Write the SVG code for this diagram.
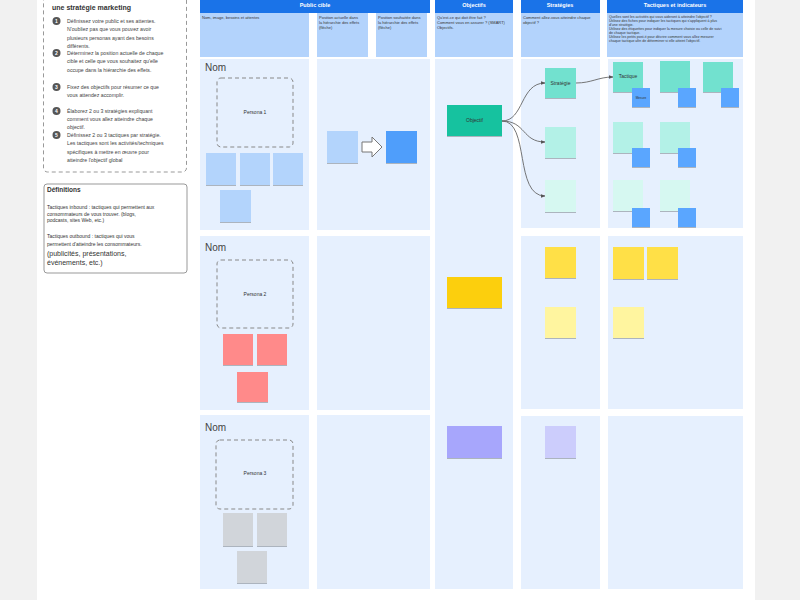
<svg xmlns="http://www.w3.org/2000/svg" width="800" height="600" viewBox="0 0 800 600">
<defs>
<style>
text{font-family:"Liberation Sans",Arial,sans-serif;fill:#333}
.hd{fill:#1a73e8}
.sub{fill:#b3d3fc}
.body{fill:#e6f0fe}
.ht{fill:#fff;font-size:5.5px;font-weight:bold}
.st{font-size:4px;fill:#333}
.lp{font-size:5.2px;fill:#444}
.num{fill:#555}
.numt{fill:#fff;font-size:5px;font-weight:bold}
.nom{font-size:10px;fill:#444}
.pbox{fill:none;stroke:#888;stroke-width:1;stroke-dasharray:4 3}
.lbl{font-size:5px;fill:#333}
.conn{fill:none;stroke:#666;stroke-width:0.9}
</style>
<filter id="sh" x="-10%" y="-10%" width="120%" height="130%">
<feDropShadow dx="0" dy="1" stdDeviation="0.6" flood-color="#000" flood-opacity="0.25"/>
</filter>
<marker id="ah" viewBox="0 0 10 10" refX="9" refY="5" markerWidth="5" markerHeight="5" orient="auto">
<path d="M0,1 L10,5 L0,9 z" fill="#555"/>
</marker>
</defs>
<rect width="800" height="600" fill="#f1f1f1"/>
<rect x="37" y="0" width="718" height="600" fill="#ffffff"/>

<!-- Left panel -->
<g id="instructions">
<rect x="43.5" y="-10" width="143" height="182" rx="4" fill="#fff" stroke="#999" stroke-width="1" stroke-dasharray="4 3"/>
<text x="52" y="10" style="font-size:7px;font-weight:bold;fill:#333">une stratégie marketing</text>
<circle class="num" cx="56.5" cy="21" r="4"/><text class="numt" x="56.5" y="22.8" text-anchor="middle">1</text>
<text class="lp" x="67" y="23">Définissez votre public et ses attentes.</text>
<text class="lp" x="67" y="31.3">N'oubliez pas que vous pouvez avoir</text>
<text class="lp" x="67" y="39.6">plusieurs personas ayant des besoins</text>
<text class="lp" x="67" y="47.9">différents.</text>
<circle class="num" cx="56.5" cy="53" r="4"/><text class="numt" x="56.5" y="54.8" text-anchor="middle">2</text>
<text class="lp" x="67" y="55">Déterminez la position actuelle de chaque</text>
<text class="lp" x="67" y="63.3">cible et celle que vous souhaitez qu'elle</text>
<text class="lp" x="67" y="71.6">occupe dans la hiérarchie des effets.</text>
<circle class="num" cx="56.5" cy="87" r="4"/><text class="numt" x="56.5" y="88.8" text-anchor="middle">3</text>
<text class="lp" x="67" y="89">Fixez des objectifs pour résumer ce que</text>
<text class="lp" x="67" y="97.3">vous attendez accomplir.</text>
<circle class="num" cx="56.5" cy="111" r="4"/><text class="numt" x="56.5" y="112.8" text-anchor="middle">4</text>
<text class="lp" x="67" y="112.5">Élaborez 2 ou 3 stratégies expliquant</text>
<text class="lp" x="67" y="120.8">comment vous allez atteindre chaque</text>
<text class="lp" x="67" y="129.1">objectif.</text>
<circle class="num" cx="56.5" cy="135" r="4"/><text class="numt" x="56.5" y="136.8" text-anchor="middle">5</text>
<text class="lp" x="67" y="137">Définissez 2 ou 3 tactiques par stratégie.</text>
<text class="lp" x="67" y="145.3">Les tactiques sont les activités/techniques</text>
<text class="lp" x="67" y="153.6">spécifiques à mettre en œuvre pour</text>
<text class="lp" x="67" y="161.9">atteindre l'objectif global</text>
</g>

<g id="definitions">
<rect x="44" y="184" width="143" height="89" rx="3" fill="#fff" stroke="#999" stroke-width="1"/>
<text x="47" y="192" style="font-size:6.5px;font-weight:bold;fill:#333">Définitions</text>
<text class="lp" x="47" y="209" style="font-size:5px;fill:#333">Tactiques inbound : tactiques qui permettent aux</text>
<text class="lp" x="47" y="215.5" style="font-size:5px;fill:#333">consommateurs de vous trouver. (blogs,</text>
<text class="lp" x="47" y="222" style="font-size:5px;fill:#333">podcasts, sites Web, etc.)</text>
<text class="lp" x="47" y="238" style="font-size:5px;fill:#333">Tactiques outbound : tactiques qui vous</text>
<text class="lp" x="47" y="246" style="font-size:5px;fill:#333">permettent d'atteindre les consommateurs.</text>
<text class="lp" x="47" y="256" style="font-size:7px;fill:#333">(publicités, présentations,</text>
<text class="lp" x="47" y="265" style="font-size:7px;fill:#333">événements, etc.)</text>
</g>

<!-- Column: Public cible -->
<g id="col-public">
<rect class="hd" x="200" y="-5" width="230" height="18"/>
<text class="ht" x="315" y="7" text-anchor="middle">Public cible</text>
<rect class="sub" x="200" y="13" width="109" height="44"/>
<text class="st" x="202" y="19">Nom, image, besoins et attentes</text>
<rect class="sub" x="317" y="13" width="51" height="44"/>
<text class="st" x="319" y="19">Position actuelle dans</text>
<text class="st" x="319" y="24">la hiérarchie des effets</text>
<text class="st" x="319" y="29">(flèche)</text>
<rect class="sub" x="376" y="13" width="51" height="44"/>
<text class="st" x="378" y="19">Position souhaitée dans</text>
<text class="st" x="378" y="24">la hiérarchie des effets</text>
<text class="st" x="378" y="29">(flèche)</text>
</g>

<g id="col-objectifs">
<rect class="hd" x="435" y="-5" width="78" height="18"/>
<text class="ht" x="474" y="7" text-anchor="middle">Objectifs</text>
<rect class="sub" x="435" y="13" width="78" height="44"/>
<text class="st" x="437" y="19">Qu'est-ce qui doit être fait ?</text>
<text class="st" x="437" y="24">Comment vous en assurer ? (SMART)</text>
<text class="st" x="437" y="29">Objectifs.</text>
<rect class="body" x="435" y="59" width="78" height="530"/>
</g>

<g id="col-strategies">
<rect class="hd" x="521" y="-5" width="79" height="18"/>
<text class="ht" x="560" y="7" text-anchor="middle">Stratégies</text>
<rect class="sub" x="521" y="13" width="79" height="44"/>
<text class="st" x="523" y="19">Comment allez-vous atteindre chaque</text>
<text class="st" x="523" y="24">objectif ?</text>
<rect class="body" x="521" y="59" width="79" height="169"/>
<rect class="body" x="521" y="236" width="79" height="173"/>
<rect class="body" x="521" y="416" width="79" height="173"/>
</g>

<g id="col-tactiques">
<rect class="hd" x="607" y="-5" width="136" height="18"/>
<text class="ht" x="675" y="7" text-anchor="middle">Tactiques et indicateurs</text>
<rect class="sub" x="607" y="13" width="136" height="44"/>
<text class="st" x="609" y="18" style="font-size:3.6px">Quelles sont les activités qui vous aideront à atteindre l'objectif ?</text>
<text class="st" x="609" y="22" style="font-size:3.6px">Utilisez des fiches pour indiquer les tactiques qui s'appliquent à plus</text>
<text class="st" x="609" y="26" style="font-size:3.6px">d'une stratégie.</text>
<text class="st" x="609" y="30" style="font-size:3.6px">Utilisez des étiquettes pour indiquer la mesure choisie ou celle de suivi</text>
<text class="st" x="609" y="34" style="font-size:3.6px">de chaque tactique.</text>
<text class="st" x="609" y="38" style="font-size:3.6px">Utilisez les petits post-it pour décrire comment vous allez mesurer</text>
<text class="st" x="609" y="42" style="font-size:3.6px">chaque tactique afin de déterminer si elle atteint l'objectif.</text>
<rect class="body" x="608" y="59" width="135" height="169"/>
<rect class="body" x="608" y="236" width="135" height="173"/>
<rect class="body" x="608" y="416" width="135" height="173"/>
</g>

<!-- Row 1 -->
<g id="persona-1">
<rect class="body" x="200" y="59" width="109" height="171"/>
<text class="nom" x="205" y="71">Nom</text>
<rect class="pbox" x="217" y="78" width="76" height="69" rx="4"/>
<text class="lbl" x="255" y="114" text-anchor="middle">Persona 1</text>
<g filter="url(#sh)" fill="#b3d4fc">
<rect x="206" y="153" width="30" height="32"/>
<rect x="240" y="153" width="30" height="32"/>
<rect x="273" y="153" width="30" height="32"/>
<rect x="220" y="190" width="31" height="32"/>
</g>
</g>
<g id="position-1">
<rect class="body" x="317" y="59" width="113" height="171"/>
<rect x="327" y="131" width="31" height="32" fill="#b3d4fc" filter="url(#sh)"/>
<path d="M362,142 L372,142 L372,137 L382,147 L372,157 L372,152 L362,152 Z" fill="#fff" stroke="#777" stroke-width="1" stroke-linejoin="round"/>
<rect x="386" y="131" width="31" height="32" fill="#4f9efb" filter="url(#sh)"/>
</g>

<!-- Row 2 -->
<g id="persona-2">
<rect class="body" x="200" y="236" width="109" height="174"/>
<text class="nom" x="205" y="251">Nom</text>
<rect class="pbox" x="217" y="260" width="76" height="68" rx="4"/>
<text class="lbl" x="255" y="296" text-anchor="middle">Persona 2</text>
<g filter="url(#sh)" fill="#ff8a8a">
<rect x="223" y="334" width="30" height="31"/>
<rect x="257" y="334" width="30" height="31"/>
<rect x="237" y="372" width="31" height="30"/>
</g>
</g>
<g id="position-2"><rect class="body" x="317" y="236" width="113" height="174"/></g>

<!-- Row 3 -->
<g id="persona-3">
<rect class="body" x="200" y="415" width="109" height="174"/>
<text class="nom" x="205" y="431">Nom</text>
<rect class="pbox" x="216" y="440" width="77" height="69" rx="4"/>
<text class="lbl" x="255" y="475" text-anchor="middle">Persona 3</text>
<g filter="url(#sh)" fill="#d1d5da">
<rect x="223" y="513" width="30" height="33"/>
<rect x="257" y="513" width="30" height="33"/>
<rect x="237" y="551" width="30" height="32"/>
</g>
</g>
<g id="position-3"><rect class="body" x="317" y="415" width="113" height="174"/></g>

<!-- Objectifs -->
<g id="objectif-1">
<rect x="447" y="105" width="55" height="31" fill="#14c29f" filter="url(#sh)"/>
<text class="lbl" x="474.5" y="122" text-anchor="middle">Objectif</text>
</g>
<g id="objectif-2"><rect x="447" y="277" width="55" height="31" fill="#fccf0c" filter="url(#sh)"/></g>
<g id="objectif-3"><rect x="447" y="426" width="55" height="32" fill="#a7a6fc" filter="url(#sh)"/></g>

<!-- Strategies -->
<g id="strategie-1">
<rect x="545" y="68" width="31" height="30" fill="#72e1cf" filter="url(#sh)"/>
<text class="lbl" x="560.5" y="84.5" text-anchor="middle">Stratégie</text>
</g>
<g id="strategie-2"><rect x="545" y="127" width="31" height="31" fill="#b3f1e7" filter="url(#sh)"/></g>
<g id="strategie-3"><rect x="545" y="180" width="31" height="32" fill="#d6f8f1" filter="url(#sh)"/></g>
<g id="strategie-4"><rect x="545" y="247" width="31" height="31" fill="#ffe047" filter="url(#sh)"/></g>
<g id="strategie-5"><rect x="545" y="307" width="31" height="31" fill="#fff59f" filter="url(#sh)"/></g>
<g id="strategie-6"><rect x="545" y="426" width="31" height="32" fill="#cccdfc" filter="url(#sh)"/></g>

<!-- Tactiques -->
<g id="tactique-1">
<rect x="613" y="62" width="30" height="30" fill="#72e1cf" filter="url(#sh)"/>
<text class="lbl" x="628" y="78" text-anchor="middle">Tactique</text>
<rect x="632" y="88" width="18" height="19" fill="#5aa6ff" filter="url(#sh)"/>
<text x="641" y="98.5" text-anchor="middle" style="font-size:3.2px">Mesure</text>
</g>
<g id="tactique-2">
<rect x="660" y="61" width="30" height="31" fill="#72e1cf" filter="url(#sh)"/>
<rect x="678" y="88" width="18" height="19" fill="#5aa6ff" filter="url(#sh)"/>
</g>
<g id="tactique-3">
<rect x="703" y="62" width="30" height="30" fill="#72e1cf" filter="url(#sh)"/>
<rect x="721" y="88" width="18" height="19" fill="#5aa6ff" filter="url(#sh)"/>
</g>
<g id="tactique-4">
<rect x="613" y="122" width="30" height="31" fill="#b3f1e7" filter="url(#sh)"/>
<rect x="632" y="148" width="18" height="19" fill="#5aa6ff" filter="url(#sh)"/>
</g>
<g id="tactique-5">
<rect x="660" y="122" width="30" height="31" fill="#b3f1e7" filter="url(#sh)"/>
<rect x="678" y="148" width="18" height="19" fill="#5aa6ff" filter="url(#sh)"/>
</g>
<g id="tactique-6">
<rect x="613" y="180" width="30" height="31" fill="#d6f8f1" filter="url(#sh)"/>
<rect x="632" y="208" width="18" height="19" fill="#5aa6ff" filter="url(#sh)"/>
</g>
<g id="tactique-7">
<rect x="660" y="180" width="30" height="31" fill="#d6f8f1" filter="url(#sh)"/>
<rect x="678" y="208" width="18" height="19" fill="#5aa6ff" filter="url(#sh)"/>
</g>
<g id="tactique-8"><rect x="613" y="247" width="31" height="32" fill="#ffe047" filter="url(#sh)"/></g>
<g id="tactique-9"><rect x="647" y="247" width="31" height="32" fill="#ffe047" filter="url(#sh)"/></g>
<g id="tactique-10"><rect x="613" y="307" width="31" height="31" fill="#fff59f" filter="url(#sh)"/></g>

<!-- Connectors -->
<g id="connectors">
<path class="conn" d="M502,121 C524,121 520,83 545,83" marker-end="url(#ah)"/>
<path class="conn" d="M502,121 C526,121 522,142 545,142" marker-end="url(#ah)"/>
<path class="conn" d="M502,121 C530,121 514,196 545,196" marker-end="url(#ah)"/>
<path class="conn" d="M576,83 C592,83 598,77 613,77" marker-end="url(#ah)"/>
</g>
</svg>
